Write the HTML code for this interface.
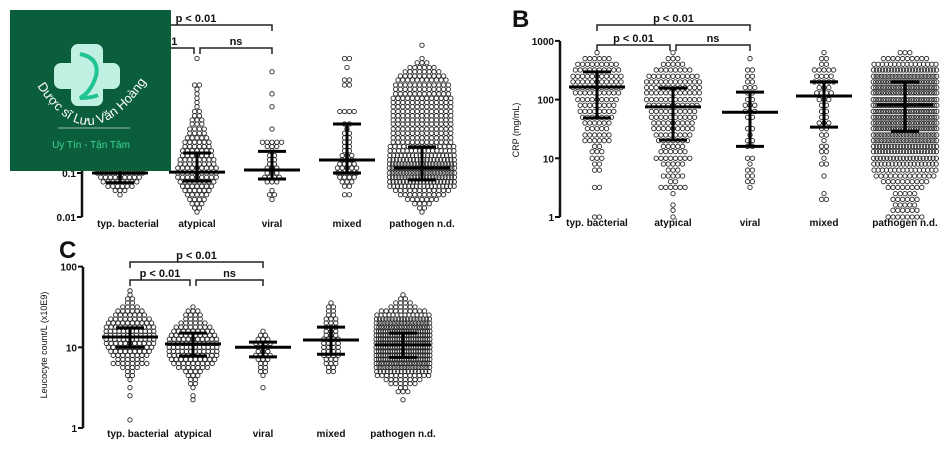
<!DOCTYPE html>
<html><head><meta charset="utf-8">
<style>
html,body{margin:0;padding:0;background:#fff;}
svg{display:block;font-family:"Liberation Sans",Arial,sans-serif;}
.tk{font-size:10px;font-weight:bold;fill:#111;}
.cat{font-size:10px;font-weight:bold;fill:#111;}
.br{font-size:11px;font-weight:bold;fill:#111;}
</style></head>
<body>
<svg id="chart" width="950" height="458" viewBox="0 0 950 458" xmlns="http://www.w3.org/2000/svg">
<rect x="0" y="0" width="950" height="458" fill="#fff"/>
<g id="plots"></g>
<text x="512" y="27" font-size="24" font-weight="bold" fill="#111">B</text>
<text x="59" y="258" font-size="24" font-weight="bold" fill="#111">C</text>
<text transform="translate(519,130) rotate(-90)" text-anchor="middle" font-size="9" fill="#111">CRP (mg/mL)</text>
<text transform="translate(47,345) rotate(-90)" text-anchor="middle" font-size="9" fill="#111">Leucocyte count/L (x10E9)</text>
<g>
<rect x="10" y="10" width="161" height="161" fill="#0b5e3b"/>
<path d="M78 44 h18 a7 7 0 0 1 7 7 v12 h10 a7 7 0 0 1 7 7 v12 a7 7 0 0 1 -7 7 h-10 v10 a7 7 0 0 1 -7 7 h-18 a7 7 0 0 1 -7 -7 v-10 h-10 a7 7 0 0 1 -7 -7 v-12 a7 7 0 0 1 7 -7 h10 v-12 a7 7 0 0 1 7 -7z" fill="#bff0e2"/>
<path d="M80 54 q20 4 16 22 q-5 16 -16 22 q12 0 18 -3" stroke="#1fc492" stroke-width="4" fill="none"/>
<path id="arc" d="M30 74 Q88 178 154 70" fill="none"/>
<text font-size="13" fill="#fff"><textPath href="#arc" startOffset="50%" text-anchor="middle">Dược sĩ Lưu Văn Hoàng</textPath></text>
<line x1="58" y1="128" x2="130" y2="128" stroke="#9bbfae" stroke-width="1"/>
<text x="91" y="148" text-anchor="middle" font-size="10" fill="#3fd69a">Uy Tín - Tận Tâm</text>
</g>
</svg>
<script>
const categories = ["typ. bacterial","atypical","viral","mixed","pathogen n.d."];
// Panel A (log scale)
const levelsA = [0.013,0.016,0.02,0.025,0.032,0.04,0.05,0.063,0.08,0.1,0.13,0.16,0.2,0.25,0.32,0.4,0.5,0.63,0.8,1,1.3,1.6,2,2.5,3.2,4,5,6.3,8,10,13,16,20,25,32,40,50,63,80];
const countsA_bact = [0,0,0,0,1,3,6,8,9,11,10,9,8,8,7,6,6,5,4,4,3,3,2,2,2,1,1,1,1,1,0,1,0,0,0,0,0,0,0];
const countsA_atyp = [1,2,3,4,5,6,7,8,9,9,9,8,8,7,7,6,6,5,4,4,3,3,2,2,1,1,1,1,1,2,0,0,0,0,0,1,0,0,0];
const countsA_viral = [0,0,0,1,2,1,0,3,4,3,3,2,2,2,1,3,5,0,0,1,0,0,0,0,1,0,0,1,0,0,0,0,1,0,0,0,0,0,0];
const countsA_mixed = [0,0,0,0,2,0,2,3,4,5,5,4,3,3,2,2,2,2,2,1,2,0,0,4,0,0,0,0,0,2,2,0,0,1,0,2,0,0,0];
const countsA_path = [1,2,4,7,10,12,18,20,22,24,24,22,20,18,16,15,13,13,13,13,13,13,13,13,13,13,13,12,12,12,11,10,8,6,3,1,0,0,1];
const medianA = [0.1,0.105,0.117,0.197,0.13];
const lowA = [0.06,0.066,0.073,0.1,0.07];
const highA = [0.3,0.285,0.31,1.3,0.39];
const ticksA = [0.01,0.1,1,10,100];
const tickLabelsA = ["0.01","0.1","1","10","100"];
// Panel B
const levelsB = [1,1.3,1.6,2,2.5,3.2,4,5,6.3,8,10,13,16,20,25,32,40,50,63,80,100,130,160,200,250,320,400,500,630];
const countsB_bact = [2,0,0,0,0,2,0,0,2,2,3,3,2,6,6,5,6,7,8,8,9,10,11,11,11,10,9,6,1];
const countsB_atyp = [1,1,1,0,1,6,2,5,3,5,8,6,5,7,8,9,9,10,10,11,12,12,12,12,11,8,5,3,1];
const countsB_viral = [0,0,0,0,0,1,2,2,2,1,2,0,2,2,1,2,0,2,3,3,2,2,3,2,2,2,0,1,0];
const countsB_mixed = [0,0,0,2,1,0,0,1,0,2,1,2,2,1,2,2,3,2,2,2,3,4,3,5,4,5,2,2,1];
const countsB_path = [8,6,5,6,5,8,10,13,16,18,20,22,22,24,24,26,26,26,26,26,26,26,26,26,24,22,16,10,3];
const medianB = [164,75,61,115,81];
const lowB = [48.6,20.5,16,34,29];
const highB = [296,158,134,200,200];
const ticksB = [1,10,100,1000];
const tickLabelsB = ["1","10","100","1000"];
// Panel C
const levelsC = [1,1.12,1.26,1.41,1.58,1.78,2,2.24,2.51,2.82,3.16,3.55,3.98,4.47,5.01,5.62,6.31,7.08,7.94,8.91,10,11.2,12.6,14.1,15.8,17.8,20,22.4,25.1,28.2,31.6,35.5,39.8,44.7,50.1];
const countsC_bact = [0,0,1,0,0,0,0,0,1,0,1,0,1,2,2,4,8,6,8,9,10,11,12,12,12,11,10,9,7,6,4,2,2,1,1];
const countsC_atyp = [0,0,0,0,0,0,0,1,1,0,1,2,2,3,4,7,9,10,11,12,12,12,11,10,9,8,6,4,4,3,1,0,0,0,0];
const countsC_viral = [0,0,0,0,0,0,0,0,0,0,1,0,0,1,2,2,2,3,4,3,3,4,3,2,1,0,0,0,0,0,0,0,0,0,0];
const countsC_mixed = [0,0,0,0,0,0,0,0,0,0,0,0,0,0,2,2,3,3,4,4,4,4,4,3,3,3,3,3,2,2,2,1,0,0,0];
const countsC_path = [0,0,0,0,0,0,0,1,0,3,2,6,8,12,16,20,22,24,24,24,24,24,24,24,24,22,20,18,14,10,6,4,2,1,0];
const medianC = [13.4,11,10,12.3,10.7];
const lowC = [10,7.8,7.6,8.2,7.5];
const highC = [17.4,15,11.6,17.8,15];
const ticksC = [1,10,100];
const tickLabelsC = ["1","10","100"];

const NS = "http://www.w3.org/2000/svg";
const root = document.getElementById("plots");
function mk(tag, attrs, parent){
  const e = document.createElementNS(NS, tag);
  for (const k in attrs) e.setAttribute(k, attrs[k]);
  (parent||root).appendChild(e);
  return e;
}

const panels = [
  {id:"a", ax:82, base:217, dec:44, minLog:-2, top:41, catX:[120,197,272,347,422], halfW:[25,28,22,22,34], labY:227,
   levels:levelsA, counts:[countsA_bact,countsA_atyp,countsA_viral,countsA_mixed,countsA_path], med:medianA, lo:lowA, hi:highA,
   ticks:ticksA, tickLabels:tickLabelsA, b1:25, b2:48},
  {id:"b", ax:560, base:217, dec:58.7, minLog:0, top:41, catX:[597,673,750,824,905], halfW:[30,30,22,22,33], labY:226,
   levels:levelsB, counts:[countsB_bact,countsB_atyp,countsB_viral,countsB_mixed,countsB_path], med:medianB, lo:lowB, hi:highB,
   ticks:ticksB, tickLabels:tickLabelsB, b1:25, b2:45},
  {id:"c", ax:83, base:428, dec:80.7, minLog:0, top:267, catX:[130,193,263,331,403], halfW:[26,26,20,22,28], labY:437,
   levels:levelsC, counts:[countsC_bact,countsC_atyp,countsC_viral,countsC_mixed,countsC_path], med:medianC, lo:lowC, hi:highC,
   ticks:ticksC, tickLabels:tickLabelsC, b1:262, b2:280}
];

panels.forEach(p => {
  const g = mk("g", {});
  
  
  const y = v => p.base - p.dec * (Math.log10(v) - p.minLog);
  const axis = mk("line", {x1:p.ax, y1:p.top, x2:p.ax, y2:p.base, stroke:"#111", "stroke-width":2.5}, g);
  
  
  p.ticks.forEach((t, i) => {
    const ty = y(t);
    const tl = mk("line", {x1:p.ax-5, y1:ty, x2:p.ax, y2:ty, stroke:"#111", "stroke-width":2}, g);
    
    
    const tx = mk("text", {x:p.ax-6, y:ty+4, "text-anchor":"end", class:"tk"}, g);
    tx.textContent = p.tickLabels[i];
    
    
  });
  categories.forEach((c, ci) => {
    const cg = mk("g", {}, g);
    
    
    const cnt = p.counts[ci];
    p.levels.forEach((lv, li) => {
      const n = cnt[li];
      if (!n) return;
      const s = Math.min(4.8, 2 * p.halfW[ci] / n);
      const py = y(lv);
      for (let k = 0; k < n; k++) {
        const px = p.catX[ci] + (k - (n - 1) / 2) * s;
        const pt = mk("circle", {cx:px.toFixed(2), cy:py.toFixed(2), r:2.2, fill:"none", stroke:"#2a2a2a", "stroke-width":0.9}, cg);
        
        
      }
    });
    const cx = p.catX[ci];
    const eb = mk("g", {stroke:"#000", "stroke-width":3}, g);
    
    
    mk("line", {x1:cx, y1:y(p.lo[ci]), x2:cx, y2:y(p.hi[ci])}, eb);
    mk("line", {x1:cx-28, y1:y(p.med[ci]), x2:cx+28, y2:y(p.med[ci])}, eb);
    mk("line", {x1:cx-14, y1:y(p.lo[ci]), x2:cx+14, y2:y(p.lo[ci])}, eb);
    mk("line", {x1:cx-14, y1:y(p.hi[ci]), x2:cx+14, y2:y(p.hi[ci])}, eb);
    const cl = mk("text", {x:cx + (ci===0 && p.id!=="b" ? 8 : 0), y:p.labY, "text-anchor":"middle", class:"cat"}, g);
    cl.textContent = c;
    
    
  });
  const X = p.catX;
  const brackets = [
    {x1:X[0], x2:X[2], yy:p.b1, label:"p < 0.01"},
    {x1:X[0], x2:X[1]-3, yy:p.b2, label:"p < 0.01"},
    {x1:X[1]+3, x2:X[2], yy:p.b2, label:"ns"}
  ];
  brackets.forEach(b => {
    const bg = mk("g", {}, g);
    
    
    mk("path", {d:`M${b.x1} ${b.yy+6} V${b.yy} H${b.x2} V${b.yy+6}`, fill:"none", stroke:"#222", "stroke-width":1.5}, bg);
    const t = mk("text", {x:(b.x1+b.x2)/2, y:b.yy-3, "text-anchor":"middle", class:"br"}, bg);
    t.textContent = b.label;
  });
});
</script>
</body></html>
